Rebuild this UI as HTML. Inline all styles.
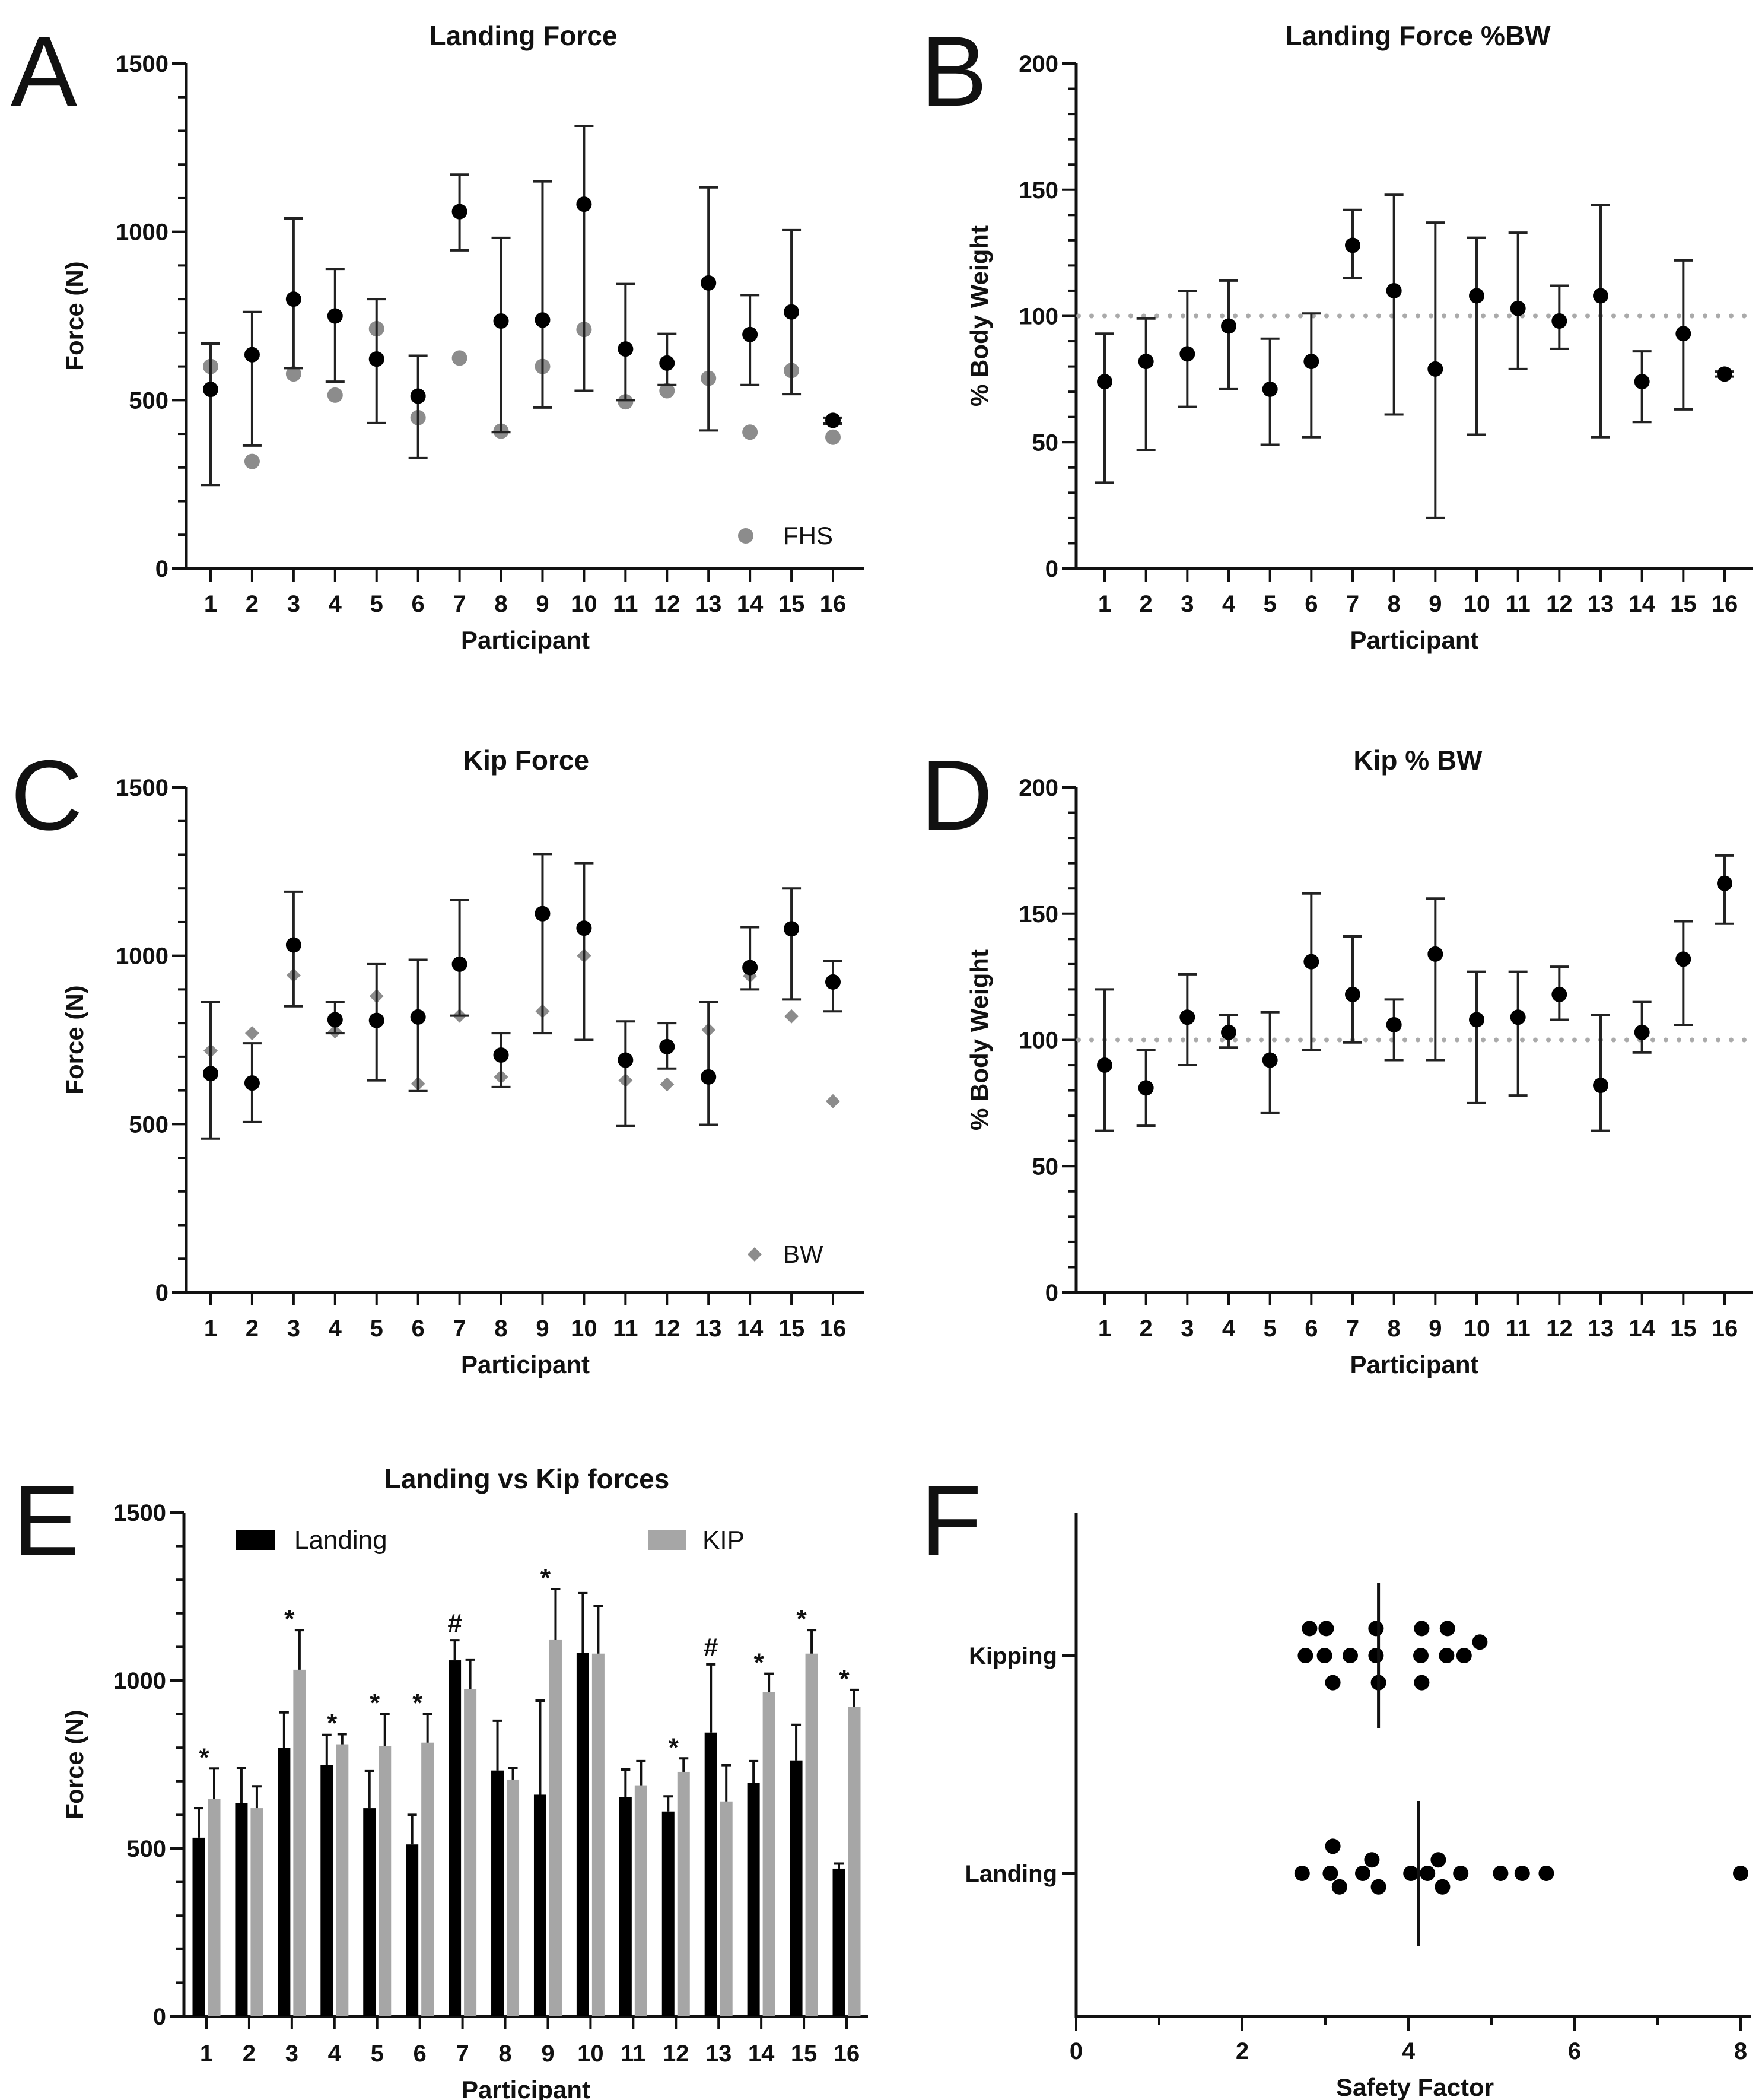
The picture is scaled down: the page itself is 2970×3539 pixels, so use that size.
<!DOCTYPE html>
<html><head><meta charset="utf-8"><style>
html,body{margin:0;padding:0;background:#fff}
svg{display:block}
text{font-family:"Liberation Sans",Arial,sans-serif}
</style></head><body>
<svg id="fig" width="2970" height="3539" viewBox="0 0 2970 3539" xmlns="http://www.w3.org/2000/svg"></svg>
<script>
// ---- Data ----
const participants = [1,2,3,4,5,6,7,8,9,10,11,12,13,14,15,16];
// A: landing force
const landMean = [532,635,800,750,622,512,1060,735,738,1082,652,610,848,695,762,440];
const landHi   = [668,762,1040,890,800,632,1170,982,1150,1315,845,697,1132,812,1005,448];
const landLo   = [248,365,595,555,432,328,945,405,478,528,500,545,410,545,518,430];
const fhs      = [600,318,578,515,712,448,625,408,600,710,495,528,565,405,588,390];
// B: landing %BW
const landBW   = [74,82,85,96,71,82,128,110,79,108,103,98,108,74,93,77];
const landBWHi = [93,99,110,114,91,101,142,148,137,131,133,112,144,86,122,78];
const landBWLo = [34,47,64,71,49,52,115,61,20,53,79,87,52,58,63,76];
// C: kip force
const kipMean = [650,622,1032,810,808,818,975,705,1125,1082,690,730,640,965,1080,922];
const kipHi   = [862,740,1190,862,975,988,1165,770,1302,1275,805,800,862,1085,1200,985];
const kipLo   = [457,506,850,770,630,598,822,610,770,750,494,665,498,900,870,835];
const bw      = [718,770,942,775,880,620,822,640,835,1000,630,618,780,940,820,568];
// D: kip %BW
const kipBW   = [90,81,109,103,92,131,118,106,134,108,109,118,82,103,132,162];
const kipBWHi = [120,96,126,110,111,158,141,116,156,127,127,129,110,115,147,173];
const kipBWLo = [64,66,90,97,71,96,99,92,92,75,78,108,64,95,106,146];
// E: bars
const eLand   = [532,635,800,748,620,512,1060,732,660,1082,652,610,845,695,762,440];
const eLandHi = [620,740,905,838,730,600,1120,880,940,1260,735,655,1048,760,868,455];
const eKip    = [648,620,1032,810,805,815,975,705,1122,1080,688,728,640,965,1080,922];
const eKipHi  = [738,685,1150,840,900,900,1062,740,1272,1222,760,768,748,1020,1150,972];
const eMarks  = ["*","","*","*","*","*","#","","*","","","*","#","*","*","*"];
// F: safety factor
const sfKip  = [2.76,2.81,2.99,3.09,3.30,3.01,3.61,3.64,3.61,4.15,4.16,4.16,4.47,4.46,4.67,4.86];
const sfLand = [2.72,3.09,3.06,3.17,3.45,3.56,3.64,4.03,4.23,4.36,4.41,4.63,5.11,5.37,5.66,8.0];
const sfKipMedian = 3.64, sfLandMedian = 4.12;
const fCategories = ["Kipping","Landing"];
const fTicks = [0,2,4,6,8];

const NS="http://www.w3.org/2000/svg";
const svg=document.getElementById('fig');
function el(tag,attrs,parent,txt){const e=document.createElementNS(NS,tag);for(const k in attrs)e.setAttribute(k,attrs[k]);if(txt!==undefined)e.textContent=txt;(parent||svg).appendChild(e);return e;}

function panel(name,letter,lx,ly,title,tx,ty){
  const g=el('g',{});
  
  
  const L=el('text',{x:lx,y:ly,'font-size':168,fill:'#111'},g,letter);
  
  
  const T=el('text',{x:tx,y:ty,'font-size':46,'font-weight':'bold','text-anchor':'middle',fill:'#111'},g,title);
  
  
  return g;
}

function yAxis(g,ax,yTop,yBot,max,major,minor,ytitle,ytx){
  const ys=v=>yBot-(v/max)*(yBot-yTop);
  const line=el('line',{x1:ax,y1:yTop,x2:ax,y2:yBot+2,stroke:'#111','stroke-width':5},g);
  
  
  for(let v=0;v<=max+1e-9;v+=minor){
    const isMaj=Math.abs(v/major-Math.round(v/major))<1e-6;
    el('line',{x1:ax-(isMaj?24:14),y1:ys(v),x2:ax,y2:ys(v),stroke:'#111','stroke-width':4},g);
    if(isMaj){
      const t=el('text',{x:ax-30,y:ys(v)+14,'font-size':40,'font-weight':'bold','text-anchor':'end',fill:'#111'},g,String(v));
      
      
    }
  }
  const cy=(yTop+yBot)/2;
  const t=el('text',{x:ytx,y:cy,'font-size':42,'font-weight':'bold','text-anchor':'middle',fill:'#111',transform:`rotate(-90 ${ytx} ${cy})`},g,ytitle);
  
  
  return ys;
}
function xAxisPart(g,ax,xEnd,yBot,x1,x16,labY,titleY){
  const xs=i=>x1+i*(x16-x1)/15;
  const line=el('line',{x1:ax-2,y1:yBot,x2:xEnd,y2:yBot,stroke:'#111','stroke-width':5},g);
  
  
  participants.forEach((p,i)=>{
    el('line',{x1:xs(i),y1:yBot,x2:xs(i),y2:yBot+22,stroke:'#111','stroke-width':4},g);
    const t=el('text',{x:xs(i),y:labY,'font-size':40,'font-weight':'bold','text-anchor':'middle',fill:'#111'},g,String(p));
    
    
  });
  const t=el('text',{x:(ax+xEnd)/2,y:titleY,'font-size':42,'font-weight':'bold','text-anchor':'middle',fill:'#111'},g,'Participant');
  
  
  return xs;
}
function errbar(g,x,yh,yl,col){
  el('line',{x1:x,y1:yh,x2:x,y2:yl,stroke:col,'stroke-width':4},g);
  el('line',{x1:x-16,y1:yh,x2:x+16,y2:yh,stroke:col,'stroke-width':4},g);
  el('line',{x1:x-16,y1:yl,x2:x+16,y2:yl,stroke:col,'stroke-width':4},g);
}
function dot(g,x,y,col,nm){
  const c=el('circle',{cx:x,cy:y,r:13,fill:col},g);
  
  
}
function diamond(g,x,y,col,nm){
  const s=12;
  const p=el('polygon',{points:`${x},${y-s} ${x+s},${y} ${x},${y+s} ${x-s},${y}`,fill:col},g);
  
  
}

// ---- Panel A ----
(function(){
  const g=panel('panel-a-landing-force','A',18,178,'Landing Force',882,76);
  const ys=yAxis(g,314,107,958,1500,500,100,'Force (N)',140);
  const xs=xAxisPart(g,314,1457,958,355,1404,1031,1093);
  participants.forEach((p,i)=>{
    dot(g,xs(i),ys(fhs[i]),'#8c8c8c','fhs-point');
    errbar(g,xs(i),ys(landHi[i]),ys(landLo[i]),'#222');
    dot(g,xs(i),ys(landMean[i]),'#000','landing-force-point');
  });
  dot(g,1257,903,'#8c8c8c','legend-fhs-marker');
  const t=el('text',{x:1320,y:917,'font-size':42,fill:'#111'},g,'FHS');
  
  
})();

// ---- Panel B ----
(function(){
  const g=panel('panel-b-landing-bw','B',1552,178,'Landing Force %BW',2390,76);
  const ys=yAxis(g,1814,107,958,200,50,10,'% Body Weight',1665);
  const xs=xAxisPart(g,1814,2954,958,1862,2907,1031,1093);
  const ref=el('line',{x1:1818,y1:ys(100),x2:2954,y2:ys(100),stroke:'#aaa','stroke-width':8,'stroke-dasharray':'0 22','stroke-linecap':'round'},g);
  
  
  participants.forEach((p,i)=>{
    errbar(g,xs(i),ys(landBWHi[i]),ys(landBWLo[i]),'#222');
    dot(g,xs(i),ys(landBW[i]),'#000','landing-bw-point');
  });
})();

// ---- Panel C ----
(function(){
  const g=panel('panel-c-kip-force','C',18,1398,'Kip Force',887,1297);
  const ys=yAxis(g,314,1327,2178,1500,500,100,'Force (N)',140);
  const xs=xAxisPart(g,314,1457,2178,355,1404,2252,2314);
  participants.forEach((p,i)=>{
    diamond(g,xs(i),ys(bw[i]),'#8c8c8c','bw-point');
    errbar(g,xs(i),ys(kipHi[i]),ys(kipLo[i]),'#222');
    dot(g,xs(i),ys(kipMean[i]),'#000','kip-force-point');
  });
  diamond(g,1272,2114,'#8c8c8c','legend-bw-marker');
  const t=el('text',{x:1320,y:2128,'font-size':42,fill:'#111'},g,'BW');
  
  
})();

// ---- Panel D ----
(function(){
  const g=panel('panel-d-kip-bw','D',1552,1398,'Kip % BW',2390,1297);
  const ys=yAxis(g,1814,1327,2178,200,50,10,'% Body Weight',1665);
  const xs=xAxisPart(g,1814,2954,2178,1862,2907,2252,2314);
  const ref=el('line',{x1:1818,y1:ys(100),x2:2954,y2:ys(100),stroke:'#aaa','stroke-width':8,'stroke-dasharray':'0 22','stroke-linecap':'round'},g);
  
  
  participants.forEach((p,i)=>{
    errbar(g,xs(i),ys(kipBWHi[i]),ys(kipBWLo[i]),'#222');
    dot(g,xs(i),ys(kipBW[i]),'#000','kip-bw-point');
  });
})();

// ---- Panel E ----
(function(){
  const g=panel('panel-e-landing-vs-kip','E',22,2620,'Landing vs Kip forces',888,2508);
  const ys=yAxis(g,310,2549,3398,1500,500,100,'Force (N)',140);
  const xs=xAxisPart(g,310,1463,3398,348,1427,3474,3536);
  const bwid=21;
  participants.forEach((p,i)=>{
    const xl=xs(i)-13, xk=xs(i)+13;
    let r=el('rect',{x:xl-bwid/2,y:ys(eLand[i]),width:bwid,height:ys(0)-ys(eLand[i]),fill:'#000'},g);
    
    
    el('line',{x1:xl,y1:ys(eLand[i]),x2:xl,y2:ys(eLandHi[i]),stroke:'#111','stroke-width':4},g);
    el('line',{x1:xl-8,y1:ys(eLandHi[i]),x2:xl+8,y2:ys(eLandHi[i]),stroke:'#111','stroke-width':4},g);
    r=el('rect',{x:xk-bwid/2,y:ys(eKip[i]),width:bwid,height:ys(0)-ys(eKip[i]),fill:'#a6a6a6'},g);
    
    
    el('line',{x1:xk,y1:ys(eKip[i]),x2:xk,y2:ys(eKipHi[i]),stroke:'#111','stroke-width':4},g);
    el('line',{x1:xk-8,y1:ys(eKipHi[i]),x2:xk+8,y2:ys(eKipHi[i]),stroke:'#111','stroke-width':4},g);
    if(eMarks[i]){
      const top=Math.max(eLandHi[i],eKipHi[i]);
      const mx=eMarks[i]==='#'?xl:xs(i)-4;
      const t=el('text',{x:mx,y:ys(top)-(eMarks[i]==='#'?14:4),'font-size':44,'font-weight':'bold','text-anchor':'middle',fill:'#111'},g,eMarks[i]);
      
      
    }
  });
  let r=el('rect',{x:398,y:2578,width:66,height:34,fill:'#000'},g);
  
  
  let t=el('text',{x:496,y:2610,'font-size':44,fill:'#111'},g,'Landing');
  
  
  r=el('rect',{x:1093,y:2578,width:64,height:34,fill:'#a6a6a6'},g);
  
  
  t=el('text',{x:1184,y:2610,'font-size':44,fill:'#111'},g,'KIP');
  
  
})();

// ---- Panel F ----
(function(){
  const g=panel('panel-f-safety-factor','F',1552,2620,'',0,0);
  const ax=1814, yTop=2549, yBot=3398, xEnd=2952;
  const xs=v=>ax+v*140;
  const catY=[2790,3157];
  let l=el('line',{x1:ax,y1:yTop,x2:ax,y2:yBot+2,stroke:'#111','stroke-width':5},g);
  
  
  l=el('line',{x1:ax-2,y1:yBot,x2:xEnd,y2:yBot,stroke:'#111','stroke-width':5},g);
  
  
  for(let v=0;v<=8;v++){
    const maj=v%2===0;
    el('line',{x1:xs(v),y1:yBot,x2:xs(v),y2:yBot+(maj?24:14),stroke:'#111','stroke-width':4},g);
  }
  fTicks.forEach(v=>{
    const t=el('text',{x:xs(v),y:yBot+72,'font-size':40,'font-weight':'bold','text-anchor':'middle',fill:'#111'},g,String(v));
    
    
  });
  let t=el('text',{x:2385,y:3532,'font-size':42,'font-weight':'bold','text-anchor':'middle',fill:'#111'},g,'Safety Factor');
  
  
  fCategories.forEach((c,ci)=>{
    el('line',{x1:ax-24,y1:catY[ci],x2:ax,y2:catY[ci],stroke:'#111','stroke-width':4},g);
    const tt=el('text',{x:ax-32,y:catY[ci]+14,'font-size':40,'font-weight':'bold','text-anchor':'end',fill:'#111'},g,c);
    
    
  });
  function swarm(vals,cy,nm){
    const placed=[]; const d=27, step=24;
    const order=vals.map((v,i)=>i).sort((a,b)=>vals[a]-vals[b]);
    order.forEach(i=>{
      const x=xs(vals[i]);
      const offs=[0,-1,1,-2,2,-3,3];
      for(const o of offs){
        const y=cy+o*step*0.95;
        if(placed.every(p=>Math.hypot(p[0]-x,p[1]-y)>=d)){placed.push([x,y]);break;}
      }
    });
    placed.forEach(p=>dot(g,p[0],p[1],'#000',nm));
  }
  swarm(sfKip,catY[0],'kipping-safety-point');
  swarm(sfLand,catY[1],'landing-safety-point');
  l=el('line',{x1:xs(sfKipMedian),y1:catY[0]-122,x2:xs(sfKipMedian),y2:catY[0]+122,stroke:'#111','stroke-width':5},g);
  
  
  l=el('line',{x1:xs(sfLandMedian),y1:catY[1]-122,x2:xs(sfLandMedian),y2:catY[1]+122,stroke:'#111','stroke-width':5},g);
  
  
})();
</script>
</body></html>
